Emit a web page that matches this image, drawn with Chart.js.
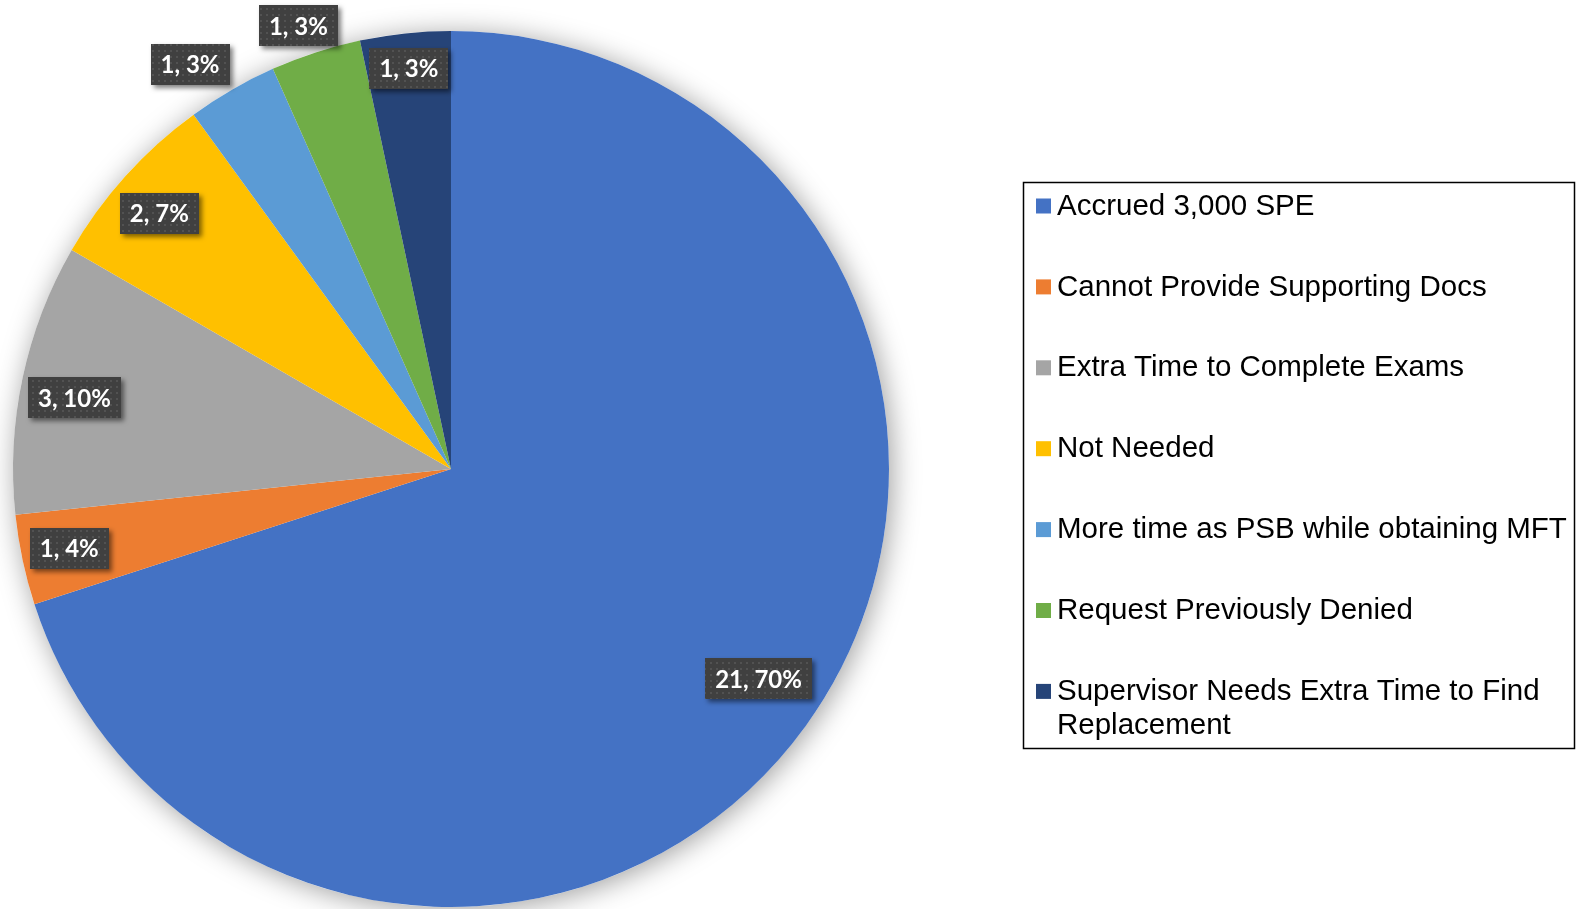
<!DOCTYPE html>
<html>
<head>
<meta charset="utf-8">
<script src="https://cdn.jsdelivr.net/npm/chart.js@4.4.0/dist/chart.umd.min.js"></script>
<style>
  html, body { margin: 0; padding: 0; background: #fff; }
  #wrap { width: 1576px; height: 909px; position: relative; }
</style>
</head>
<body>
<div id="wrap"><canvas id="pieChart"></canvas></div>
<script>
// data
const categories = [
  "Accrued 3,000 SPE",
  "Cannot Provide Supporting Docs",
  "Extra Time to Complete Exams",
  "Not Needed",
  "More time as PSB while obtaining MFT",
  "Request Previously Denied",
  "Supervisor Needs Extra Time to Find Replacement"
];
const counts = [21, 1, 3, 2, 1, 1, 1];
const percentLabels = ["70%", "4%", "10%", "7%", "3%", "3%", "3%"];
const sliceColors = ["#4472C4", "#ED7D31", "#A5A5A5", "#FFC000", "#5B9BD5", "#70AD47", "#264478"];

// where each data label sits (Excel best fit): radius fraction and angle nudge in degrees
const labelRadius = [0.85, 0.89, 0.875, 0.885, 1.10, 1.07, 0.92];
const labelTurn = [-1.7, 0.3, -1.3, -0.8, -2.8, -1.0, 0];

document.addEventListener("DOMContentLoaded", () => {
  const ctx = document.getElementById("pieChart").getContext("2d");

  // dotted dark fill used behind the data labels
  const tile = document.createElement("canvas");
  tile.width = 6; tile.height = 6;
  const tctx = tile.getContext("2d");
  tctx.fillStyle = "#404040";
  tctx.fillRect(0, 0, 6, 6);
  tctx.fillStyle = "#525252";
  tctx.fillRect(2, 2, 2, 2);
  const dotPattern = ctx.createPattern(tile, "repeat");

  // soft shadow under the whole pie
  const pieShadow = {
    id: "pieShadow",
    beforeDatasetsDraw(chart) {
      const arc = chart.getDatasetMeta(0).data[0];
      if (!arc) return;
      const c = chart.ctx;
      c.save();
      c.shadowColor = "rgba(0,0,0,0.38)";
      c.shadowBlur = 28;
      c.shadowOffsetX = 3;
      c.shadowOffsetY = 3;
      c.fillStyle = "#ffffff";
      c.beginPath();
      c.arc(arc.x, arc.y, arc.outerRadius, 0, Math.PI * 2);
      c.fill();
      c.restore();
    }
  };

  // "value, percent" boxes
  const sliceLabels = {
    id: "sliceLabels",
    afterDatasetsDraw(chart) {
      const c = chart.ctx;
      const ds = chart.data.datasets[0];
      c.save();
      c.font = "bold 24px Lato, 'Open Sans', sans-serif";
      c.textAlign = "center";
      c.textBaseline = "middle";
      chart.getDatasetMeta(0).data.forEach((arc, i) => {
        const mid = (arc.startAngle + arc.endAngle) / 2 + labelTurn[i] * Math.PI / 180;
        const r = arc.outerRadius * labelRadius[i];
        const x = arc.x + Math.cos(mid) * r;
        const y = arc.y + Math.sin(mid) * r;
        const txt = ds.data[i] + ", " + percentLabels[i];
        const w = c.measureText(txt).width + 20;
        const h = 41;
        c.save();
        c.shadowColor = "rgba(0,0,0,0.5)";
        c.shadowBlur = 5;
        c.shadowOffsetX = 3;
        c.shadowOffsetY = 3;
        c.fillStyle = dotPattern;
        c.fillRect(Math.round(x - w / 2), Math.round(y - h / 2), Math.round(w), h);
        c.restore();
        c.fillStyle = "#ffffff";
        c.fillText(txt, x, y + 1);
      });
      c.restore();
    }
  };

  // boxed legend on the right
  const boxLegend = {
    id: "boxLegend",
    afterDraw(chart, args, opts) {
      const c = chart.ctx;
      const ds = chart.data.datasets[0];
      c.save();
      c.strokeStyle = "#000";
      c.lineWidth = 1.5;
      c.strokeRect(opts.left, opts.top, opts.width, opts.height);
      c.font = "29.5px Arial, 'Liberation Sans', sans-serif";
      c.textBaseline = "middle";
      c.textAlign = "left";
      chart.data.labels.forEach((lab, i) => {
        const y = opts.firstY + i * opts.step;
        c.fillStyle = ds.backgroundColor[i];
        c.fillRect(opts.markerX, y - 7, 15, 15);
        // simple word wrap
        const words = lab.split(" ");
        const lines = [];
        let line = "";
        words.forEach(wd => {
          const test = line ? line + " " + wd : wd;
          if (c.measureText(test).width > opts.maxText && line) {
            lines.push(line);
            line = wd;
          } else line = test;
        });
        lines.push(line);
        c.fillStyle = "#000";
        lines.forEach((ln, k) => c.fillText(ln, opts.textX, y + 1 + k * opts.lineH));
      });
      c.restore();
    }
  };

  new Chart(ctx, {
    type: "pie",
    data: {
      labels: categories,
      datasets: [{
        data: counts,
        backgroundColor: sliceColors,
        borderWidth: 0,
        hoverOffset: 0
      }]
    },
    options: {
      responsive: true,
      maintainAspectRatio: false,
      animation: false,
      layout: { padding: { left: 13, right: 687, top: 31, bottom: 2 } },
      plugins: {
        legend: { display: false },
        tooltip: { enabled: false },
        boxLegend: {
          left: 1023.5, top: 182.5, width: 551, height: 566,
          markerX: 1036, textX: 1057, firstY: 205.5, step: 80.9,
          lineH: 34, maxText: 514
        }
      }
    },
    plugins: [pieShadow, sliceLabels, boxLegend]
  });
});
</script>
</body>
</html>
